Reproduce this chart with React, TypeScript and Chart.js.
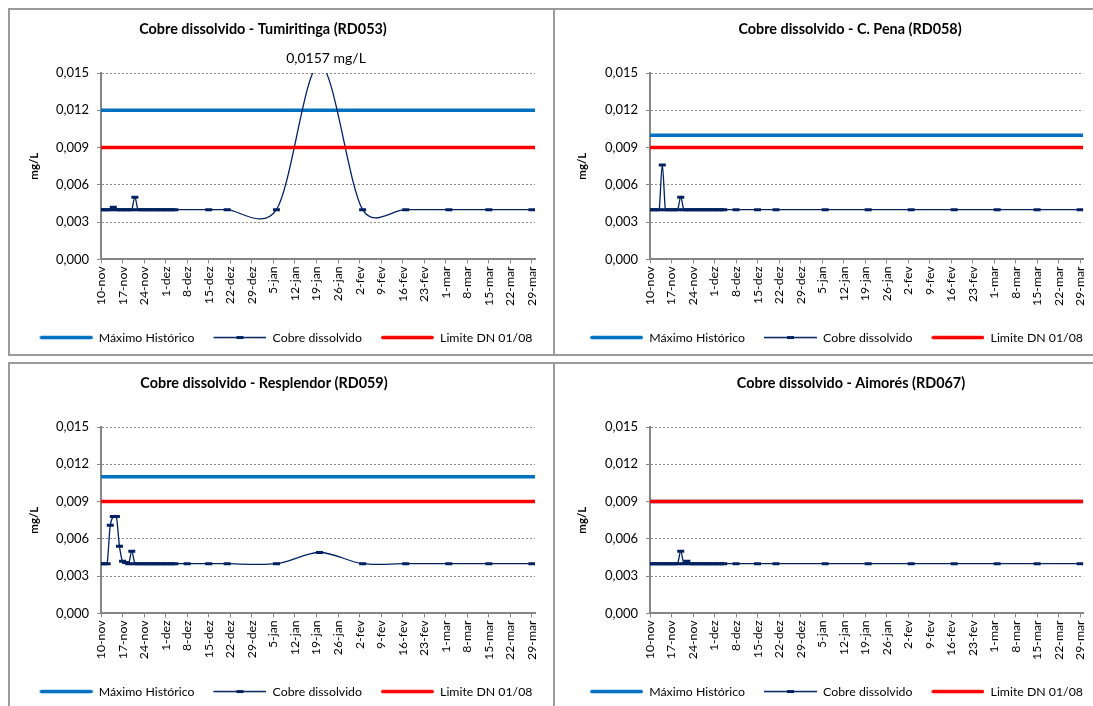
import React, { useEffect, useRef } from 'react';
import { Chart, registerables } from 'chart.js';

Chart.register(...registerables);

// ---------- data ----------
const AXIS_START = '2010-11-10';
const AXIS_END = '2011-03-31';

const xTickLabels = [
  '10-nov', '17-nov', '24-nov', '1-dez', '8-dez', '15-dez', '22-dez', '29-dez',
  '5-jan', '12-jan', '19-jan', '26-jan', '2-fev', '9-fev', '16-fev', '23-fev',
  '1-mar', '8-mar', '15-mar', '22-mar', '29-mar',
];

const Y_MIN = 0;
const Y_MAX = 0.015;
const Y_STEP = 0.003;
const LIMITE_DN = 0.009;

const denseDates = [
  '2010-11-10', '2010-11-11', '2010-11-12', '2010-11-13', '2010-11-14',
  '2010-11-15', '2010-11-16', '2010-11-17', '2010-11-18', '2010-11-19',
  '2010-11-20', '2010-11-21', '2010-11-22', '2010-11-23', '2010-11-24',
  '2010-11-25', '2010-11-26', '2010-11-27', '2010-11-28', '2010-11-29',
  '2010-11-30', '2010-12-01', '2010-12-02', '2010-12-03', '2010-12-04',
];

const tumDates = [
  ...denseDates,
  '2010-12-15', '2010-12-21', '2011-01-06', '2011-01-20', '2011-02-03',
  '2011-02-17', '2011-03-03', '2011-03-16', '2011-03-30',
];
const tumValues = [
  0.004, 0.004, 0.004, 0.004, 0.0042, 0.004, 0.004, 0.004, 0.004, 0.004,
  0.004, 0.005, 0.004, 0.004, 0.004, 0.004, 0.004, 0.004, 0.004, 0.004,
  0.004, 0.004, 0.004, 0.004, 0.004,
  0.004, 0.004, 0.004, 0.0157, 0.004, 0.004, 0.004, 0.004, 0.004,
];
const tumMaxHist = 0.012;

const laterDates = [
  '2010-12-08', '2010-12-15', '2010-12-21', '2011-01-06', '2011-01-20',
  '2011-02-03', '2011-02-17', '2011-03-03', '2011-03-16', '2011-03-30',
];

const penaDates = [...denseDates, ...laterDates];
const penaValues = [
  0.004, 0.004, 0.004, 0.004, 0.0076, 0.004, 0.004, 0.004, 0.004, 0.004,
  0.005, 0.004, 0.004, 0.004, 0.004, 0.004, 0.004, 0.004, 0.004, 0.004,
  0.004, 0.004, 0.004, 0.004, 0.004,
  0.004, 0.004, 0.004, 0.004, 0.004, 0.004, 0.004, 0.004, 0.004, 0.004,
];
const penaMaxHist = 0.010;

const resDates = [...denseDates, ...laterDates];
const resValues = [
  0.004, 0.004, 0.004, 0.0071, 0.0078, 0.0078, 0.0054, 0.0042, 0.0041, 0.004,
  0.005, 0.004, 0.004, 0.004, 0.004, 0.004, 0.004, 0.004, 0.004, 0.004,
  0.004, 0.004, 0.004, 0.004, 0.004,
  0.004, 0.004, 0.004, 0.004, 0.0049, 0.004, 0.004, 0.004, 0.004, 0.004,
];
const resMaxHist = 0.011;

const aimDates = [...denseDates, ...laterDates];
const aimValues = [
  0.004, 0.004, 0.004, 0.004, 0.004, 0.004, 0.004, 0.004, 0.004, 0.004,
  0.005, 0.004, 0.0042, 0.004, 0.004, 0.004, 0.004, 0.004, 0.004, 0.004,
  0.004, 0.004, 0.004, 0.004, 0.004,
  0.004, 0.004, 0.004, 0.004, 0.004, 0.004, 0.004, 0.004, 0.004, 0.004,
];
const aimMaxHist = 0.009;

const seriesNames = ['Máximo Histórico', 'Cobre dissolvido', 'Limite DN 01/08'];

// ---------- styling ----------
const FONT = 'Lato';
const BLUE = '#0070C0';
const RED = '#FF0000';
const NAVY = '#002060';
const AXIS_GRAY = '#868686';
const GRID_GRAY = '#8c8c8c';

const CANVAS_W = 543;
const CANVAS_H = 344;
const LEGEND_FONT = 12.3;
const SAMPLE_W = 72;
const SAMPLE_GAP = 19;
const SMOOTH_CAP = 0.5;

type PanelCfg = {
  title: string;
  dates: string[];
  values: number[];
  maxHist: number;
  left: number;
  top: number;
  titleX: number;
  plotLeft: number;
  plotRight: number;
  legendLeft: number;
  peakLabel: boolean;
};

const panels: PanelCfg[] = [
  { title: 'Cobre dissolvido - Tumiritinga (RD053)', dates: tumDates, values: tumValues, maxHist: tumMaxHist,
    left: 8, top: 8, titleX: 253, plotLeft: 91, plotRight: 525, legendLeft: 8, peakLabel: true },
  { title: 'Cobre dissolvido - C. Pena (RD058)', dates: penaDates, values: penaValues, maxHist: penaMaxHist,
    left: 553, top: 8, titleX: 295, plotLeft: 95, plotRight: 533, legendLeft: 11, peakLabel: false },
  { title: 'Cobre dissolvido - Resplendor (RD059)', dates: resDates, values: resValues, maxHist: resMaxHist,
    left: 8, top: 362, titleX: 254, plotLeft: 91, plotRight: 525, legendLeft: 8, peakLabel: false },
  { title: 'Cobre dissolvido - Aimorés (RD067)', dates: aimDates, values: aimValues, maxHist: aimMaxHist,
    left: 553, top: 362, titleX: 296, plotLeft: 95, plotRight: 533, legendLeft: 11, peakLabel: false },
];

function dayOffset(d: string): number {
  return (Date.parse(d) - Date.parse(AXIS_START)) / 86400000;
}

function legendSample(kind: 'thick' | 'marker', color: string): HTMLCanvasElement {
  const c = document.createElement('canvas');
  c.width = SAMPLE_W;
  c.height = 9;
  const ctx = c.getContext('2d')!;
  ctx.strokeStyle = color;
  const x0 = SAMPLE_GAP;
  const x1 = SAMPLE_W;
  if (kind === 'thick') {
    ctx.lineWidth = 3.5;
    ctx.lineCap = 'round';
    ctx.beginPath();
    ctx.moveTo(x0 + 1.75, 4.5);
    ctx.lineTo(x1 - 1.75, 4.5);
    ctx.stroke();
  } else {
    const mid = (x0 + x1) / 2;
    ctx.lineWidth = 1.3;
    ctx.beginPath();
    ctx.moveTo(x0, 4.5);
    ctx.lineTo(x1, 4.5);
    ctx.stroke();
    ctx.lineWidth = 3;
    ctx.beginPath();
    ctx.moveTo(mid - 3.5, 4.5);
    ctx.lineTo(mid + 3.5, 4.5);
    ctx.stroke();
  }
  return c;
}

const panelTitlePlugin = {
  id: 'panelTitle',
  afterDraw(chart: any, _args: any, opts: any) {
    if (!opts || !opts.text) return;
    const ctx = chart.ctx;
    ctx.save();
    ctx.font = `bold 14.4px ${FONT}`;
    ctx.fillStyle = '#000';
    ctx.textAlign = 'center';
    ctx.textBaseline = 'middle';
    ctx.fillText(opts.text, opts.x, opts.y);
    ctx.restore();
  },
};

// Excel-like smoothing: Catmull-Rom control points (1/6 of neighbour span),
// each side capped to a fraction of the adjacent segment length
const excelSmoothPlugin = {
  id: 'excelSmooth',
  beforeDatasetDraw(chart: any, args: any, opts: any) {
    if (!opts || args.index !== opts.datasetIndex) return;
    const meta = args.meta;
    const line = meta.dataset;
    if (line && typeof line.updateControlPoints === 'function') {
      line.updateControlPoints(chart.chartArea, 'x');
    }
    const pts = meta.data;
    for (let i = 0; i < pts.length; i++) {
      const p = pts[i];
      const prev = pts[i - 1] || p;
      const next = pts[i + 1] || p;
      const dx = (next.x - prev.x) / 6;
      const dy = (next.y - prev.y) / 6;
      const len = Math.hypot(dx, dy);
      const d01 = Math.hypot(p.x - prev.x, p.y - prev.y);
      const d12 = Math.hypot(next.x - p.x, next.y - p.y);
      const s1 = len > SMOOTH_CAP * d01 && len > 0 ? (SMOOTH_CAP * d01) / len : 1;
      const s2 = len > SMOOTH_CAP * d12 && len > 0 ? (SMOOTH_CAP * d12) / len : 1;
      p.cp1x = p.x - dx * s1;
      p.cp1y = p.y - dy * s1;
      p.cp2x = p.x + dx * s2;
      p.cp2y = p.y + dy * s2;
    }
    if (line) line._path = undefined;
  },
};

const peakLabelPlugin = {
  id: 'peakLabel',
  afterDraw(chart: any, _args: any, opts: any) {
    if (!opts || !opts.show) return;
    const ds = chart.data.datasets[opts.datasetIndex];
    let best: any = null;
    for (const p of ds.data) if (!best || p.y > best.y) best = p;
    if (!best || best.y <= Y_MAX) return;
    const x = chart.scales.x.getPixelForValue(best.x) + opts.dx;
    const y = chart.chartArea.top - opts.dy;
    const ctx = chart.ctx;
    ctx.save();
    ctx.font = `14px ${FONT}`;
    ctx.fillStyle = '#000';
    ctx.textAlign = 'center';
    ctx.textBaseline = 'middle';
    ctx.fillText(best.y.toFixed(4).replace('.', ',') + ' mg/L', x, y);
    ctx.restore();
  },
};

function Panel({ cfg }: { cfg: PanelCfg }) {
  const ref = useRef<HTMLCanvasElement>(null);

  useEffect(() => {
    if (!ref.current) return;
    const xMin = dayOffset(AXIS_START);
    const xMax = dayOffset(AXIS_END);
    const series = cfg.dates.map((d, i) => ({ x: dayOffset(d), y: cfg.values[i] }));
    const legendItems = [
      { text: seriesNames[0], pointStyle: legendSample('thick', BLUE) },
      { text: seriesNames[1], pointStyle: legendSample('marker', NAVY) },
      { text: seriesNames[2], pointStyle: legendSample('thick', RED) },
    ].map((it, i) => ({
      ...it,
      fillStyle: 'rgba(0,0,0,0)',
      strokeStyle: 'rgba(0,0,0,0)',
      lineWidth: 0,
      hidden: false,
      datasetIndex: i,
      fontColor: '#000',
    }));

    const chart = new Chart(ref.current, {
      type: 'line',
      data: {
        datasets: [
          {
            label: seriesNames[0],
            data: [{ x: xMin, y: cfg.maxHist }, { x: xMax, y: cfg.maxHist }],
            borderColor: BLUE,
            borderWidth: 3.5,
            pointRadius: 0,
            order: 3,
          },
          {
            label: seriesNames[1],
            data: series,
            borderColor: NAVY,
            borderWidth: 1.3,
            tension: 0.5,
            pointStyle: 'line',
            pointRadius: 3.5,
            pointBorderWidth: 3,
            pointBorderColor: NAVY,
            pointBackgroundColor: NAVY,
            order: 2,
          },
          {
            label: seriesNames[2],
            data: [{ x: xMin, y: LIMITE_DN }, { x: xMax, y: LIMITE_DN }],
            borderColor: RED,
            borderWidth: 3.5,
            pointRadius: 0,
            order: 1,
          },
        ],
      } as any,
      options: {
        responsive: false,
        animation: false,
        devicePixelRatio: 1,
        layout: {
          padding: { left: cfg.legendLeft, right: CANVAS_W - cfg.plotRight, top: 63, bottom: 0.3 },
        },
        elements: { line: { capBezierPoints: false } },
        plugins: {
          tooltip: { enabled: false },
          title: { display: false },
          legend: {
            position: 'bottom',
            labels: {
              usePointStyle: true,
              pointStyleWidth: SAMPLE_W,
              padding: 0,
              color: '#000',
              font: { family: FONT, size: LEGEND_FONT },
              generateLabels: () => legendItems as any,
            },
          },
          panelTitle: { text: cfg.title, x: cfg.titleX, y: 19 },
          peakLabel: { show: cfg.peakLabel, datasetIndex: 1, dx: 6.5, dy: 14.7 },
          excelSmooth: { datasetIndex: 1 },
        } as any,
        scales: {
          x: {
            type: 'linear',
            min: xMin,
            max: xMax,
            afterFit: (s: any) => { s.height = 72.0; },
            grid: { drawOnChartArea: false, drawTicks: true, tickLength: 4, color: AXIS_GRAY, lineWidth: 1 },
            border: { display: true, color: AXIS_GRAY, width: 2 },
            ticks: {
              stepSize: 7,
              autoSkip: false,
              includeBounds: false,
              maxRotation: 90,
              minRotation: 90,
              padding: 3,
              color: '#000',
              font: { family: FONT, size: 12.3 },
              callback: (v: any) => xTickLabels[Math.round(Number(v) / 7)] ?? '',
            },
          },
          y: {
            type: 'linear',
            min: Y_MIN,
            max: Y_MAX,
            afterFit: (s: any) => { s.width = cfg.plotLeft - cfg.legendLeft; },
            grid: { color: GRID_GRAY, lineWidth: 1, tickLength: 4, drawTicks: true, tickColor: AXIS_GRAY, tickBorderDash: [] },
            border: { display: true, color: AXIS_GRAY, width: 2, dash: [2, 2] },
            ticks: {
              stepSize: Y_STEP,
              padding: 8,
              color: '#000',
              font: { family: FONT, size: 13 },
              callback: (v: any) => Number(v).toFixed(3).replace('.', ','),
            },
            title: {
              display: true,
              text: 'mg/L',
              color: '#000',
              font: { family: FONT, size: 11.5, weight: 'bold' },
              padding: { top: 9.4, bottom: 0 },
            },
          },
        },
      } as any,
      plugins: [panelTitlePlugin, excelSmoothPlugin, peakLabelPlugin],
    });
    return () => chart.destroy();
  }, [cfg]);

  return (
    <div
      style={{
        position: 'absolute',
        left: cfg.left,
        top: cfg.top,
        width: CANVAS_W,
        height: CANVAS_H,
        border: '2px solid #9b9b9b',
        background: '#fff',
      }}
    >
      <canvas ref={ref} width={CANVAS_W} height={CANVAS_H} style={{ display: 'block' }} />
    </div>
  );
}

export default function App() {
  return (
    <div
      style={{
        position: 'fixed',
        left: 0,
        top: 0,
        width: 1093,
        height: 706,
        overflow: 'hidden',
        background: '#fff',
      }}
    >
      {panels.map((p) => (
        <Panel key={p.title} cfg={p} />
      ))}
    </div>
  );
}
